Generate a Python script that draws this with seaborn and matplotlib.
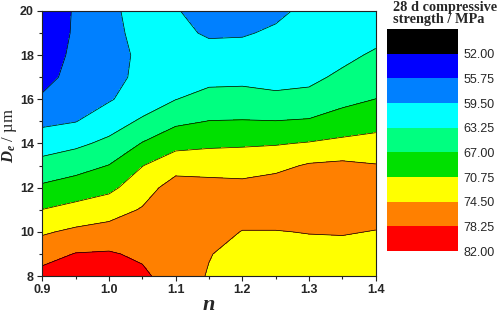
import numpy as np
import pandas as pd
import matplotlib
matplotlib.use("Agg")
import matplotlib.pyplot as plt
import seaborn as sns
from matplotlib.ticker import MultipleLocator, FormatStrFormatter

# ---- data ----
n_values = [0.90, 0.95, 1.00, 1.05, 1.10, 1.15, 1.20, 1.25, 1.30, 1.35, 1.40]
de_values = [8, 9, 10, 11, 12, 13, 14, 15, 16, 17, 18, 19, 20]
strength = [
    [79.5, 80.0, 80.3, 79.0, 76.3, 74.25, 72.6, 72.8, 72.5, 72.3, 72.0],   # 8
    [76.8, 78.4, 78.6, 77.6, 76.3, 74.65, 73.4, 73.5, 73.6, 73.5, 73.2],   # 9
    [74.05, 75.2, 75.9, 76.2, 76.4, 75.6, 74.4, 74.4, 74.6, 74.7, 74.4],   # 10
    [70.8, 71.9, 72.9, 74.8, 76.3, 76.0, 75.8, 75.8, 76.0, 76.2, 75.6],    # 11
    [67.6, 68.7, 69.9, 72.8, 76.2, 75.8, 75.5, 76.3, 76.6, 76.8, 76.0],    # 12
    [64.5, 65.6, 67.1, 70.65, 73.0, 73.0, 73.0, 73.5, 74.9, 75.3, 74.7],   # 13
    [61.5, 62.5, 64.1, 67.2, 69.6, 70.1, 70.3, 70.5, 71.0, 71.6, 72.0],    # 14
    [58.75, 59.4, 61.5, 63.8, 66.25, 67.1, 67.2, 67.1, 67.4, 68.6, 69.45], # 15
    [56.35, 58.3, 59.2, 61.2, 63.2, 64.4, 64.5, 63.8, 64.2, 66.0, 67.05],  # 16
    [54.3, 57.3, 58.6, 60.2, 62.0, 62.3, 62.4, 62.4, 62.5, 63.9, 65.4],    # 17
    [53.5, 56.7, 58.0, 60.3, 61.0, 60.7, 60.8, 61.2, 61.7, 62.4, 63.75],   # 18
    [53.0, 56.3, 58.3, 60.8, 60.3, 59.1, 59.2, 60.0, 61.0, 61.6, 62.1],    # 19
    [52.8, 56.2, 58.5, 61.3, 59.7, 58.3, 58.3, 58.8, 60.3, 61.0, 61.4],    # 20
]
levels = [48.25, 52.0, 55.75, 59.5, 63.25, 67.0, 70.75, 74.5, 78.25, 82.0]
tick_levels = [52.0, 55.75, 59.5, 63.25, 67.0, 70.75, 74.5, 78.25, 82.0]
level_colors = ["#000000", "#0000FF", "#0080FF", "#00FFFF", "#00FF80",
                "#00E000", "#FFFF00", "#FF8000", "#FF0000"]
x_ticks = [0.9, 1.0, 1.1, 1.2, 1.3, 1.4]
y_ticks = [8, 10, 12, 14, 16, 18, 20]

# ---- style ----
sns.set_style("ticks")
plt.rcParams.update({
    "font.family": ["Liberation Sans", "DejaVu Sans"],
    "mathtext.fontset": "custom",
    "mathtext.it": "Liberation Serif:italic:bold",
    "mathtext.bf": "Liberation Serif:bold",
    "mathtext.rm": "Liberation Serif",
    "axes.linewidth": 0.8,
    "axes.edgecolor": "#222222",
    "xtick.direction": "out",
    "ytick.direction": "out",
})

fig = plt.figure(figsize=(4.98, 3.14), dpi=100)
ax = fig.add_axes([0.085, 0.121, 0.6695, 0.844])

df = pd.DataFrame(strength, index=de_values, columns=n_values)
X, Y = np.meshgrid(df.columns.values, df.index.values)
Z = df.values
cf = ax.contourf(X, Y, Z, levels=levels, colors=level_colors)
ax.contour(X, Y, Z, levels=levels[1:-1], colors="black", linewidths=0.5)

ax.set_xlim(0.9, 1.4)
ax.set_ylim(8, 20)
ax.set_xticks(x_ticks)
ax.set_yticks(y_ticks)
ax.xaxis.set_minor_locator(MultipleLocator(0.05))
ax.yaxis.set_minor_locator(MultipleLocator(1))
ax.xaxis.set_major_formatter(FormatStrFormatter("%.1f"))
ax.tick_params(which="major", length=3.5, width=0.8, labelsize=9, pad=2.5,
               color="#222222")
ax.tick_params(which="minor", length=2.2, width=0.8, color="#222222")
for lab in ax.get_xticklabels() + ax.get_yticklabels():
    lab.set_fontweight("bold")
for s in ax.spines.values():
    s.set_visible(True)

ax.set_xlabel("$n$", fontsize=16)
ax.xaxis.set_label_coords(0.5, -0.068)
ax.set_ylabel("$D_e$ / µm", fontsize=12, fontfamily="Liberation Serif")
ax.yaxis.set_label_coords(-0.071, 0.53)

# ---- legend (color scale) ----
cax = fig.add_axes([0.777, 0.2006, 0.1426, 0.707])
cb = fig.colorbar(cf, cax=cax, ticks=tick_levels)
cax.invert_yaxis()
cb.outline.set_visible(False)
cax.minorticks_off()
cax.tick_params(length=0, pad=4, labelsize=9)
cax.yaxis.set_major_formatter(FormatStrFormatter("%.2f"))

fig.text(0.789, 0.998, "28 d compressive\nstrength / MPa", ha="left", va="top",
         fontfamily="Liberation Serif", fontweight="bold", fontsize=10.3,
         linespacing=0.92)

fig.savefig("out.png", dpi=100)
